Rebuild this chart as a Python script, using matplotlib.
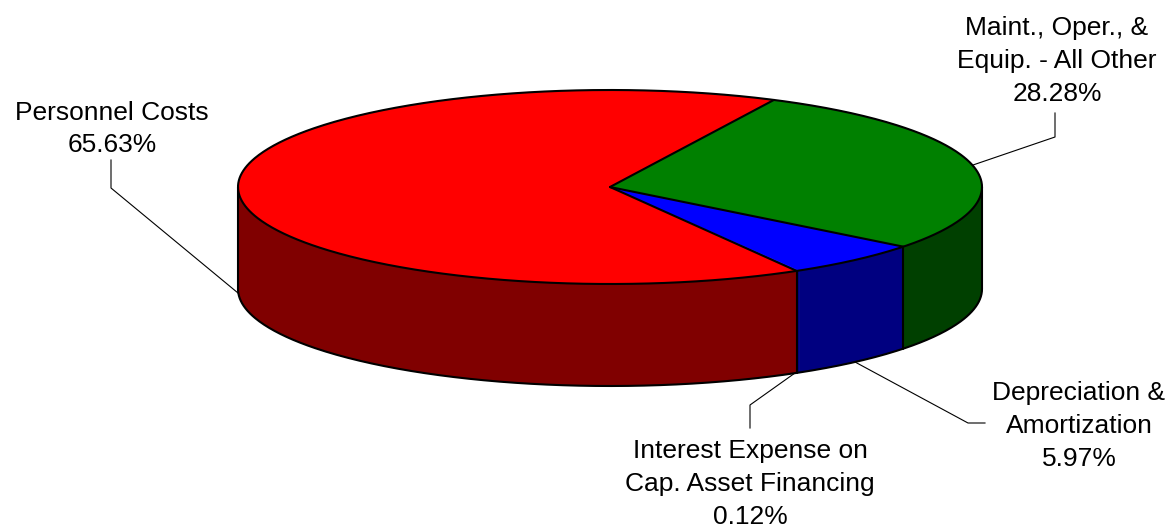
import numpy as np
import matplotlib
matplotlib.use("Agg")
import matplotlib.pyplot as plt
from matplotlib.patches import Polygon

categories = ["Maint., Oper., &\nEquip. - All Other", "Depreciation &\nAmortization",
              "Interest Expense on\nCap. Asset Financing", "Personnel Costs"]
shares = [28.28, 5.97, 0.12, 65.63]
top_colors = ["#008000", "#0000ff", "#0000ff", "#ff0000"]
side_colors = ["#004000", "#000080", "#000080", "#800000"]

CX, CY = 610, 187
RX, RY = 372, 97
DEPTH = 102
START = 63.85
EDGE = 1.5


def rim(a, b, dy=0):
    t = np.radians(np.linspace(a, b, max(int(abs(b - a) * 2), 2)))
    return np.column_stack([CX + RX * np.cos(t), CY + dy + RY * np.sin(-t)])


def main():
    plt.rcParams["font.family"] = ["Liberation Sans", "DejaVu Sans"]
    fig = plt.figure(figsize=(11.72, 5.27), dpi=100)
    ax = fig.add_axes([0, 0, 1, 1])
    ax.set_xlim(0, 1172)
    ax.set_ylim(527, 0)
    ax.axis("off")

    ends = START - np.cumsum(shares) * 3.6
    starts = np.concatenate([[START], ends[:-1]])

    # walls, only the front half of the rim shows
    for a, b, side in zip(starts, ends, side_colors):
        lo, hi = max(b, -180), min(a, 0)
        if hi > lo:
            pts = np.vstack([rim(hi, lo), rim(lo, hi, DEPTH)])
            ax.add_patch(Polygon(pts, closed=True, fc=side, ec=side, lw=0.3))

    for a, b, top in zip(starts, ends, top_colors):
        pts = np.vstack([[CX, CY], rim(a, b)])
        ax.add_patch(Polygon(pts, closed=True, fc=top, ec=top, lw=0.3))

    # outlines, the tiny slice shows as one line only
    outline = dict(color="black", lw=EDGE, solid_joinstyle="round", solid_capstyle="round")
    whole = rim(0, 360)
    ax.plot(whole[:, 0], whole[:, 1], **outline)
    front = rim(0, -180, DEPTH)
    ax.plot(front[:, 0], front[:, 1], **outline)
    for x in (CX - RX, CX + RX):
        ax.plot([x, x], [CY, CY + DEPTH], **outline)
    for i, b in enumerate(starts):
        if shares[i] < 1:
            continue
        px, py = rim(b, b + 1)[0]
        ax.plot([CX, px], [CY, py], **outline)
        if -180 < b < 0:
            ax.plot([px, px], [py, py + DEPTH], **outline)

    leaders = [
        ([973, 1055, 1055], [165, 137, 113]),
        ([855, 968, 985], [362, 423, 423]),
        ([795, 750, 750], [373, 405, 428]),
        ([238, 111, 111], [293, 188, 160]),
    ]
    for xs, ys in leaders:
        ax.plot(xs, ys, color="black", lw=0.8)

    label_pos = [(1057, 61), (1079, 426), (750, 484), (112, 129)]
    for name, share, (x, y) in zip(categories, shares, label_pos):
        ax.text(x, y, f"{name}\n{share:.2f}%", ha="center", va="center",
                fontsize=19, linespacing=1.46, color="black")

    fig.savefig("out.png", dpi=100)


if __name__ == "__main__":
    main()
